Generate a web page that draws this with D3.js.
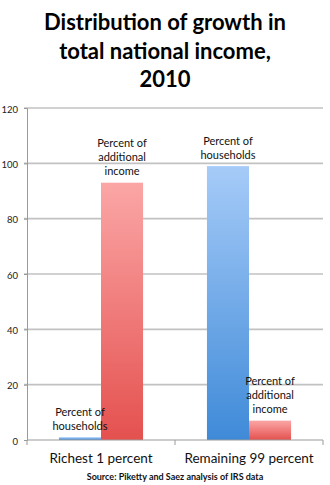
<!DOCTYPE html>
<html><head><meta charset="utf-8">
<script src="https://cdn.jsdelivr.net/npm/d3@7"></script>
<style>
html,body{margin:0;padding:0;background:#fff;}
svg{display:block;}
</style></head>
<body>
<script>
const titleLines = ["Distribution of growth in", "total national income,", "2010"];
const categories = ["Richest 1 percent", "Remaining 99 percent"];
const seriesNames = ["Percent of households", "Percent of additional income"];
const households = [1, 99];
const additionalIncome = [93, 7];
const seriesLabelLines = [["Percent of", "households"], ["Percent of", "additional", "income"]];
const yTicks = [0, 20, 40, 60, 80, 100, 120];
const sourceText = "Source: Piketty and Saez analysis of IRS data";

const W = 330, H = 485;
const font = "Lato, 'Open Sans', sans-serif";
const svg = d3.select("body").append("svg").attr("width", W).attr("height", H);

const defs = svg.append("defs");
function grad(id, top, bottom) {
  const g = defs.append("linearGradient").attr("id", id)
    .attr("x1", 0).attr("y1", 0).attr("x2", 0).attr("y2", 1);
  g.append("stop").attr("offset", "0%").attr("stop-color", top);
  g.append("stop").attr("offset", "100%").attr("stop-color", bottom);
}
grad("gBlue", "#a6cbf8", "#3f8ad8");
grad("gRed", "#fba6a6", "#e4514f");
const fills = ["url(#gBlue)", "url(#gRed)"];

// title
svg.append("g").selectAll("text").data(titleLines).join("text")
  .attr("x", W / 2).attr("y", (d, i) => 30 + i * 28.5)
  .attr("text-anchor", "middle").attr("font-family", font)
  .attr("font-weight", "bold").attr("font-size", 22).attr("fill", "#000")
  .text(d => d);

const x0 = d3.scaleBand().domain(categories).range([27, 323]).paddingInner(0).paddingOuter(0);
const x1 = d3.scaleBand().domain(seriesNames).range([0, x0.bandwidth()]).paddingInner(0).paddingOuter(0.76);
const y = d3.scaleLinear().domain([0, 120]).range([440, 108]);

// gridlines
svg.append("g").selectAll("line").data(yTicks.filter(t => t > 0)).join("line")
  .attr("x1", 24).attr("x2", 323)
  .attr("y1", d => y(d)).attr("y2", d => y(d))
  .attr("stroke", "#c2c2c2").attr("stroke-width", 1.6);

// y axis
const yAxis = svg.append("g").attr("transform", "translate(27,0)")
  .call(d3.axisLeft(y).tickValues(yTicks).tickSize(3).tickPadding(6));
yAxis.select(".domain").attr("stroke", "#9a9a9a");
yAxis.selectAll(".tick line").attr("stroke", "#9a9a9a");
yAxis.selectAll(".tick text").attr("font-family", font).attr("font-size", 9.5).attr("fill", "#222").attr("dy", "0.45em");

// bars
const data = categories.map((c, i) => ({ cat: c, vals: [households[i], additionalIncome[i]] }));
const groups = svg.append("g").selectAll("g").data(data).join("g")
  .attr("transform", d => `translate(${x0(d.cat)},0)`);
groups.selectAll("rect").data(d => d.vals.map((v, j) => ({ v, j }))).join("rect")
  .attr("x", d => x1(seriesNames[d.j])).attr("width", x1.bandwidth())
  .attr("y", d => y(d.v)).attr("height", d => y(0) - y(d.v))
  .attr("fill", d => fills[d.j]);

// bar labels
groups.each(function (d) {
  const g = d3.select(this);
  d.vals.forEach((v, j) => {
    const lines = seriesLabelLines[j];
    const cx = x1(seriesNames[j]) + x1.bandwidth() / 2;
    const lastBase = y(v) - 7.5;
    g.append("g").selectAll("text").data(lines).join("text")
      .attr("x", cx).attr("y", (t, k) => lastBase - (lines.length - 1 - k) * 14)
      .attr("text-anchor", "middle").attr("font-family", font)
      .attr("font-size", 11).attr("fill", "#111").text(t => t);
  });
});

// x axis
const xAxis = svg.append("g").attr("transform", "translate(0,440)");
xAxis.append("line").attr("x1", 27).attr("x2", 323).attr("stroke", "#9a9a9a");
xAxis.selectAll("line.tk").data([27, 27 + x0.bandwidth(), 323]).join("line").attr("class", "tk")
  .attr("x1", d => d).attr("x2", d => d).attr("y1", 0).attr("y2", 5).attr("stroke", "#9a9a9a");
xAxis.selectAll("text").data(categories).join("text")
  .attr("x", d => x0(d) + x0.bandwidth() / 2).attr("y", 23)
  .attr("text-anchor", "middle").attr("font-family", font).attr("font-size", 13.5).attr("fill", "#111")
  .text(d => d);

svg.append("text").attr("x", 175).attr("y", 480).attr("text-anchor", "middle")
  .attr("font-family", font).attr("font-weight", "bold").attr("font-size", 9).attr("fill", "#111")
  .text(sourceText);
</script>
</body></html>
